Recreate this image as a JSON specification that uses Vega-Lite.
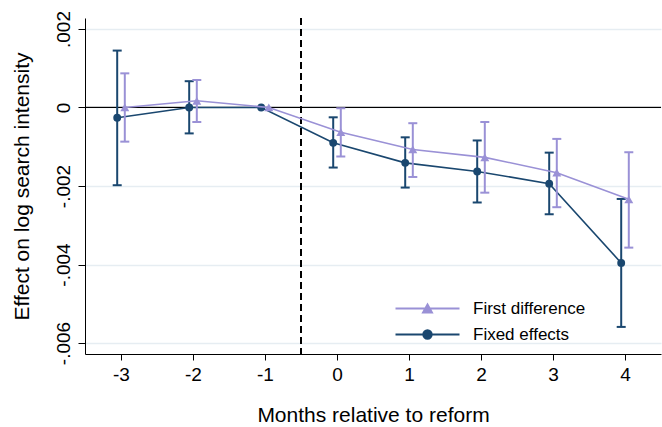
{
  "$schema": "https://vega.github.io/schema/vega-lite/v6.json",
  "width": 576,
  "height": 336,
  "autosize": "none",
  "padding": {"left": 85, "top": 18, "right": 1, "bottom": 73},
  "background": "white",
  "config": {
    "view": {"stroke": null},
    "font": "Liberation Sans",
    "axis": {"labelFont": "Liberation Sans", "titleFont": "Liberation Sans", "labelColor": "black", "titleColor": "black", "titleFontWeight": "normal", "domainColor": "black", "tickColor": "black", "domainWidth": 1, "tickWidth": 1},
    "legend": {"labelFont": "Liberation Sans"}
  },
  "datasets": {
    "est": [
      {"series": "Fixed effects", "month": -3, "est": -0.00026, "lo": -0.00198, "hi": 0.00145},
      {"series": "Fixed effects", "month": -2, "est": 0.0, "lo": -0.00066, "hi": 0.00067},
      {"series": "Fixed effects", "month": -1, "est": 0.0, "lo": null, "hi": null},
      {"series": "Fixed effects", "month": 0, "est": -0.0009, "lo": -0.00153, "hi": -0.00025},
      {"series": "Fixed effects", "month": 1, "est": -0.00141, "lo": -0.00204, "hi": -0.00076},
      {"series": "Fixed effects", "month": 2, "est": -0.00163, "lo": -0.00242, "hi": -0.00084},
      {"series": "Fixed effects", "month": 3, "est": -0.00194, "lo": -0.00272, "hi": -0.00115},
      {"series": "Fixed effects", "month": 4, "est": -0.00396, "lo": -0.00559, "hi": -0.00233},
      {"series": "First difference", "month": -3, "est": 0.0, "lo": -0.00087, "hi": 0.00087},
      {"series": "First difference", "month": -2, "est": 0.00017, "lo": -0.00037, "hi": 0.0007},
      {"series": "First difference", "month": -1, "est": 0.0, "lo": null, "hi": null},
      {"series": "First difference", "month": 0, "est": -0.00063, "lo": -0.00125, "hi": -0.00002},
      {"series": "First difference", "month": 1, "est": -0.00107, "lo": -0.00177, "hi": -0.0004},
      {"series": "First difference", "month": 2, "est": -0.00127, "lo": -0.00217, "hi": -0.00037},
      {"series": "First difference", "month": 3, "est": -0.00166, "lo": -0.00254, "hi": -0.0008},
      {"series": "First difference", "month": 4, "est": -0.00234, "lo": -0.00357, "hi": -0.00114}
    ]
  },
  "data": {"name": "est"},
  "encoding": {
    "x": {"field": "month", "type": "quantitative",
      "scale": {"domain": [-3.5, 4.5], "nice": false, "zero": false},
      "axis": {"values": [-3, -2, -1, 0, 1, 2, 3, 4], "grid": false, "tickSize": 6, "labelFontSize": 19, "labelPadding": 5,
        "labelExpr": "(datum.value < 0 ? '-' : '') + abs(datum.value)",
        "title": "Months relative to reform", "titleFontSize": 21, "titlePadding": 20}},
    "color": {"field": "series", "type": "nominal",
      "scale": {"domain": ["First difference", "Fixed effects"], "range": ["#9a91d6", "#1a476f"]},
      "legend": {"orient": "none", "legendX": 334, "legendY": 282, "title": null, "padding": 0, "rowPadding": 8, "labelFontSize": 17, "labelColor": "black", "labelOffset": 37, "symbolSize": 16, "symbolStrokeWidth": 2, "labelLimit": 300,
        "encode": {"symbols": {"update": {
          "shape": {"signal": "datum.value === 'First difference' ? 'M-16,0H16M0,-1.95L2.2,1.95H-2.2Z' : 'M-16,0H16M-2.1,0A2.1,2.1,0,1,1,2.1,0A2.1,2.1,0,1,1,-2.1,0Z'"},
          "fill": {"signal": "datum.value === 'First difference' ? '#9a91d6' : '#1a476f'"},
          "stroke": {"signal": "datum.value === 'First difference' ? '#9a91d6' : '#1a476f'"},
          "fillOpacity": {"value": 1},
          "strokeWidth": {"value": 2},
          "opacity": {"value": 1}}}}}}
  },
  "layer": [
    {
      "mark": {"type": "rule", "color": "black", "strokeWidth": 1},
      "encoding": {"y": {"datum": 0, "type": "quantitative",
        "scale": {"domain": [-0.00628, 0.00228], "nice": false, "zero": false},
        "axis": {"values": [-0.006, -0.004, -0.002, 0, 0.002], "grid": true, "gridColor": "#e6edf2", "gridWidth": 1.5, "tickSize": 7, "labelAngle": 270, "labelAlign": "center", "labelBaseline": "bottom", "labelFontSize": 19, "labelPadding": 5,
          "labelExpr": "datum.value == 0 ? '0' : (datum.value < 0 ? '-' : '') + replace(format(abs(datum.value), '.3f'), '0.', '.')",
          "title": "Effect on log search intensity", "titleFontSize": 21, "titlePadding": 22}},
        "x": null, "color": null}
    },
    {
      "mark": {"type": "rule", "color": "black", "strokeWidth": 0.9, "strokeDash": [7, 4]},
      "encoding": {"x": {"datum": -0.5, "type": "quantitative"}, "color": null}
    },
    {
      "transform": [{"filter": "datum.series == 'Fixed effects'"}],
      "layer": [
        {"transform": [{"filter": "isValid(datum.lo)"}], "mark": {"type": "rule", "strokeWidth": 2, "xOffset": -3.8},
          "encoding": {"y": {"field": "lo", "type": "quantitative"}, "y2": {"field": "hi"}}},
        {"transform": [{"filter": "isValid(datum.lo)"}], "mark": {"type": "tick", "orient": "horizontal", "size": 9, "thickness": 2, "xOffset": -3.8, "opacity": 1},
          "encoding": {"y": {"field": "lo", "type": "quantitative"}}},
        {"transform": [{"filter": "isValid(datum.hi)"}], "mark": {"type": "tick", "orient": "horizontal", "size": 9, "thickness": 2, "xOffset": -3.8, "opacity": 1},
          "encoding": {"y": {"field": "hi", "type": "quantitative"}}},
        {"mark": {"type": "line", "strokeWidth": 1.6, "xOffset": -3.8},
          "encoding": {"y": {"field": "est", "type": "quantitative"}}},
        {"mark": {"type": "point", "shape": "circle", "filled": true, "size": 62, "opacity": 1, "xOffset": -3.8},
          "encoding": {"y": {"field": "est", "type": "quantitative"}}}
      ]
    },
    {
      "transform": [{"filter": "datum.series == 'First difference'"}],
      "layer": [
        {"transform": [{"filter": "isValid(datum.lo)"}], "mark": {"type": "rule", "strokeWidth": 2, "xOffset": 3.8},
          "encoding": {"y": {"field": "lo", "type": "quantitative"}, "y2": {"field": "hi"}}},
        {"transform": [{"filter": "isValid(datum.lo)"}], "mark": {"type": "tick", "orient": "horizontal", "size": 9, "thickness": 2, "xOffset": 3.8, "opacity": 1},
          "encoding": {"y": {"field": "lo", "type": "quantitative"}}},
        {"transform": [{"filter": "isValid(datum.hi)"}], "mark": {"type": "tick", "orient": "horizontal", "size": 9, "thickness": 2, "xOffset": 3.8, "opacity": 1},
          "encoding": {"y": {"field": "hi", "type": "quantitative"}}},
        {"mark": {"type": "line", "strokeWidth": 1.6, "xOffset": 3.8},
          "encoding": {"y": {"field": "est", "type": "quantitative"}}},
        {"mark": {"type": "point", "shape": "triangle-up", "filled": true, "size": 80, "opacity": 1, "xOffset": 3.8},
          "encoding": {"y": {"field": "est", "type": "quantitative"}}}
      ]
    }
  ]
}
